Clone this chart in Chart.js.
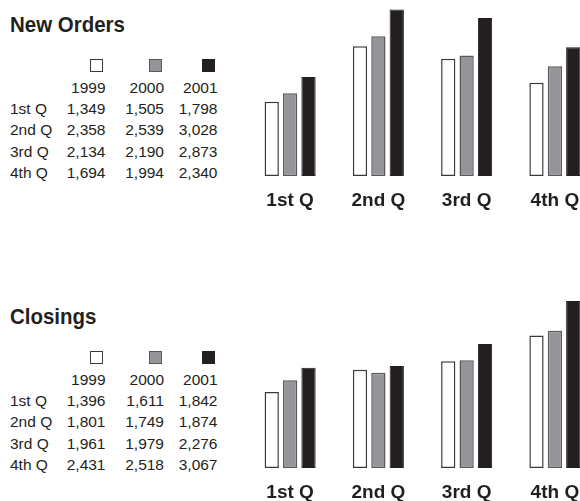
<!DOCTYPE html>
<html>
<head>
<meta charset="utf-8">
<script src="https://cdn.jsdelivr.net/npm/chart.js@4/dist/chart.umd.min.js"></script>
<style>
  html, body { margin: 0; padding: 0; width: 580px; height: 501px; overflow: hidden; background: #ffffff; }
  body { position: relative; font-family: "Liberation Sans", Arial, Helvetica, sans-serif; color: #231f20; }
  .title { position: absolute; left: 10px; font-size: 22px; font-weight: bold; line-height: 26px;
           white-space: nowrap; transform: scaleX(0.93); transform-origin: 0 0; }
  .cell { position: absolute; font-size: 15.5px; line-height: 20px; white-space: nowrap; }
  .num { width: 70px; text-align: right; }
  .swatch { position: absolute; width: 13px; height: 13px; box-sizing: border-box; }
  canvas { position: absolute; }
</style>
</head>
<body>
<script>
// Quarterly figures, one array per year
const quarters = ['1st Q', '2nd Q', '3rd Q', '4th Q'];
const years = ['1999', '2000', '2001'];

const orders1999 = [1349, 2358, 2134, 1694];
const orders2000 = [1505, 2539, 2190, 1994];
const orders2001 = [1798, 3028, 2873, 2340];

const closings1999 = [1396, 1801, 1961, 2431];
const closings2000 = [1611, 1749, 1979, 2518];
const closings2001 = [1842, 1874, 2276, 3067];

// Bar styling per year: white, grey, black
const yearFill = ['#ffffff', '#939598', '#231f20'];
const yearBorder = ['#3a3a3a', '#58595b', '#231f20'];

const colRight = [105.5, 164, 217.5];
const AXIS_HEIGHT = 36;

function buildPanel(top, title, series, yMax) {
  const body = document.body;

  const t = document.createElement('div');
  t.className = 'title';
  t.style.top = (top + 12) + 'px';
  t.textContent = title;
  body.appendChild(t);

  // legend swatches above the year columns
  years.forEach((y, i) => {
    const sw = document.createElement('div');
    sw.className = 'swatch';
    sw.style.left = (colRight[i] - 15.5) + 'px';
    sw.style.top = (top + 59) + 'px';
    sw.style.background = yearFill[i];
    sw.style.border = '1px solid ' + yearBorder[i];
    body.appendChild(sw);
  });

  // value table
  const rowY = k => top + 87.7 + 21.3 * k - 10;
  years.forEach((y, i) => {
    const c = document.createElement('div');
    c.className = 'cell num';
    c.style.left = (colRight[i] - 70) + 'px';
    c.style.top = rowY(0) + 'px';
    c.textContent = y;
    body.appendChild(c);
  });
  quarters.forEach((q, r) => {
    const lab = document.createElement('div');
    lab.className = 'cell';
    lab.style.left = '10px';
    lab.style.top = rowY(r + 1) + 'px';
    lab.textContent = q;
    body.appendChild(lab);
    series.forEach((s, i) => {
      const c = document.createElement('div');
      c.className = 'cell num';
      c.style.left = (colRight[i] - 70) + 'px';
      c.style.top = rowY(r + 1) + 'px';
      c.textContent = s[r].toLocaleString('en-US');
      body.appendChild(c);
    });
  });

  // bar chart
  const cv = document.createElement('canvas');
  cv.width = 353;
  cv.height = 212;
  cv.style.left = '246px';
  cv.style.top = top + 'px';
  body.appendChild(cv);

  new Chart(cv, {
    type: 'bar',
    data: {
      labels: quarters,
      datasets: series.map((s, i) => ({
        label: years[i],
        data: s,
        backgroundColor: yearFill[i],
        borderColor: yearBorder[i],
        borderWidth: i === 2 ? 1 : 1.5,
        borderSkipped: false,
        categoryPercentage: 0.625,
        barPercentage: 0.776
      }))
    },
    options: {
      responsive: false,
      animation: false,
      devicePixelRatio: 1,
      layout: { padding: 0 },
      plugins: { legend: { display: false }, tooltip: { enabled: false } },
      scales: {
        x: {
          grid: { display: false, drawTicks: false },
          border: { display: false },
          afterFit: scale => { scale.height = AXIS_HEIGHT; },
          ticks: {
            padding: 13,
            color: '#231f20',
            font: { family: '"Liberation Sans", Arial, sans-serif', size: 19, weight: 'bold' }
          }
        },
        y: { display: false, min: 0, max: yMax }
      }
    }
  });
}

buildPanel(0, 'New Orders', [orders1999, orders2000, orders2001], 3200);
buildPanel(292, 'Closings', [closings1999, closings2000, closings2001], 3230);
</script>
</body>
</html>
